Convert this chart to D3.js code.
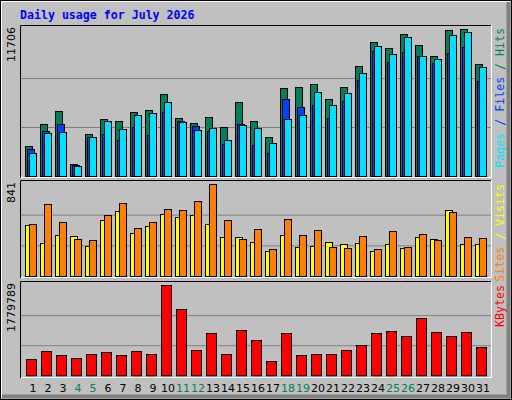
<!DOCTYPE html>
<html><head><meta charset="utf-8">
<script src="https://cdn.jsdelivr.net/npm/d3@7"></script>
<style>body{margin:0;background:#fff}</style>
</head><body><div id="chart"></div>
<script>
const days = d3.range(1, 32);
const weekends = [4, 5, 11, 12, 18, 19, 25, 26];
const hits = [2389,4141,5176,956,3345,4539,4380,5096,5256,6530,4619,4220,4698,3902,5893,4380,3106,7008,7087,7326,6132,7087,8760,10671,10193,11308,10432,9556,11626,11706,8919];
const files = [2150,3583,4141,902,3106,3345,2867,3902,3265,5096,4380,3982,3583,2548,4141,2469,1832,6132,5495,5654,4619,5972,7645,9954,9078,9874,9556,8998,9795,10273,7565];
const pages = [1832,3424,3504,796,3106,4380,3743,4858,5017,5893,4300,3663,3822,2867,4061,3822,2628,4539,4858,6689,5654,6609,8202,10352,9715,11069,9556,9317,11228,11467,8680];
const visits = [465,300,373,364,272,511,593,391,456,566,538,557,474,355,355,309,226,373,263,272,309,291,300,226,291,254,355,336,602,291,291];
const sites = [474,657,492,336,327,557,667,437,492,612,602,685,841,511,336,428,245,520,373,419,263,254,364,245,410,263,382,327,584,355,346];
const kbytes = [319431,469368,391140,332469,410697,449811,391140,469368,410697,1779789,1310319,508482,840951,410697,899622,704052,273798,840951,391140,410697,410697,508482,606267,840951,880065,782280,1134306,860508,782280,860508,567153];
const title = "Daily usage for July 2026";

const W = 512, H = 400;
const mono = "'DejaVu Sans Mono', monospace";
const svg = d3.select("#chart").append("svg").attr("width", W).attr("height", H);

// outer bevelled frame
svg.append("rect").attr("x", 0.5).attr("y", 0.5).attr("width", W - 1).attr("height", H - 1)
  .attr("fill", "#c0c0c0").attr("stroke", "#000");
svg.append("path").attr("d", `M1.5,${H-2}V1.5H${W-2}`).attr("stroke", "#fff").attr("fill", "none");
svg.append("path").attr("d", `M2,${H-3.5}H${W-3.5}V2`).attr("stroke", "#808080").attr("stroke-width", 4).attr("fill", "none");

svg.append("text").attr("x", 20).attr("y", 19).text(title)
  .attr("fill", "#0000ff").style("font", `bold 11.6px ${mono}`);

const x = d3.scaleBand().domain(days).range([25, 490]);

const panels = [
  {top: 25, bottom: 178, base: 176, max: 11706, label: "11706"},
  {top: 180, bottom: 278, base: 276, max: 841, label: "841"},
  {top: 281, bottom: 378, base: 375.3, max: 1779789, label: "1779789"}
];
const scales = panels.map(p => d3.scaleLinear().domain([0, p.max]).range([p.base, p.top + 4]));

panels.forEach((p, i) => {
  const g = svg.append("g");
  g.selectAll("line.grid").data([p.max / 3, p.max * 2 / 3]).join("line")
    .attr("x1", 21).attr("x2", 491).attr("y1", d => scales[i](d) + 0.5).attr("y2", d => scales[i](d) + 0.5)
    .attr("stroke", "#808080");
  g.append("path").attr("d", `M20.5,${p.bottom}V${p.top + 0.5}H491`).attr("stroke", "#000").attr("fill", "none");
  g.append("path").attr("d", `M21,${p.bottom - 0.5}H491.5V${p.top}`).attr("stroke", "#fff").attr("fill", "none");
  g.append("text").attr("transform", `translate(15,${p.top + 2}) rotate(-90)`)
    .attr("text-anchor", "end").text(p.label).attr("fill", "#000")
    .style("font", "11px 'DejaVu Sans'");
});

function bars(vals, scale, dx, w, color) {
  svg.append("g").selectAll("rect").data(vals).join("rect")
    .attr("x", (d, i) => x(days[i]) + dx + 0.5)
    .attr("y", d => Math.round(scale(d)) + 0.5)
    .attr("width", w)
    .attr("height", d => scale(0) - Math.round(scale(d)))
    .attr("fill", color).attr("stroke", "#000");
}
bars(hits, scales[0], 0, 7, "#00805c");
bars(files, scales[0], 2, 7, "#0040ff");
bars(pages, scales[0], 4, 7, "#00e0ff");
bars(visits, scales[1], 0, 7, "#ffff00");
bars(sites, scales[1], 4, 7, "#ff8000");
bars(kbytes, scales[2], 1, 10, "#ff0000");

// right side legends
function legend(y, parts) {
  const t = svg.append("text").attr("transform", `translate(504,${y}) rotate(-90)`)
    .attr("text-anchor", "end").style("font", `11.6px ${mono}`);
  parts.forEach(([s, c]) => t.append("tspan").text(s).attr("fill", c));
}
legend(28, [["Pages", "#00e0ff"], [" / ", "#0040ff"], ["Files", "#0040ff"], [" / ", "#00805c"], ["Hits", "#00805c"]]);
legend(184, [["Sites", "#ff8000"], [" / ", "#ffff00"], ["Visits", "#ffff00"]]);
legend(285, [["KBytes", "#ff0000"]]);

svg.append("g").selectAll("text").data(days).join("text")
  .attr("x", d => x(d) + 8).attr("y", 392).attr("text-anchor", "middle")
  .text(d => d).attr("fill", d => weekends.includes(d) ? "#00805c" : "#000")
  .style("font", "11px 'DejaVu Sans'");
</script></body></html>
